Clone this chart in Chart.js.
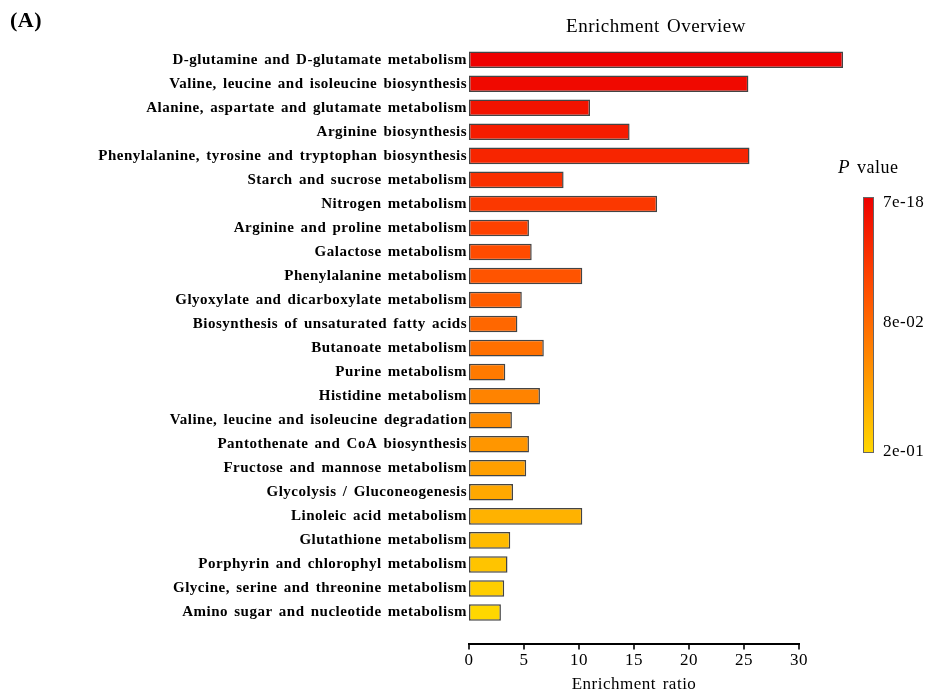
<!DOCTYPE html>
<html>
<head>
<meta charset="utf-8">
<script src="https://cdn.jsdelivr.net/npm/chart.js@4/dist/chart.umd.min.js"></script>
<style>
  html, body { margin: 0; padding: 0; background: #ffffff; }
  #wrap { width: 930px; height: 695px; position: relative; }
</style>
</head>
<body>
<div id="wrap"><canvas id="chart"></canvas></div>
<script>
// KEGG pathways, ordered from most to least significant
const pathways = [
  'D-glutamine and D-glutamate metabolism',
  'Valine, leucine and isoleucine biosynthesis',
  'Alanine, aspartate and glutamate metabolism',
  'Arginine biosynthesis',
  'Phenylalanine, tyrosine and tryptophan biosynthesis',
  'Starch and sucrose metabolism',
  'Nitrogen metabolism',
  'Arginine and proline metabolism',
  'Galactose metabolism',
  'Phenylalanine metabolism',
  'Glyoxylate and dicarboxylate metabolism',
  'Biosynthesis of unsaturated fatty acids',
  'Butanoate metabolism',
  'Purine metabolism',
  'Histidine metabolism',
  'Valine, leucine and isoleucine degradation',
  'Pantothenate and CoA biosynthesis',
  'Fructose and mannose metabolism',
  'Glycolysis / Gluconeogenesis',
  'Linoleic acid metabolism',
  'Glutathione metabolism',
  'Porphyrin and chlorophyl metabolism',
  'Glycine, serine and threonine metabolism',
  'Amino sugar and nucleotide metabolism'
];

// Enrichment ratio per pathway
const enrichmentRatio = [
  34.0, 25.4, 11.0, 14.6, 25.5, 8.6, 17.1, 5.45, 5.7, 10.3, 4.8, 4.4,
  6.8, 3.3, 6.45, 3.9, 5.45, 5.2, 4.0, 10.3, 3.75, 3.5, 3.2, 2.9
];

// x axis tick values and P value colour scale labels
const ratioTicks = [0, 5, 10, 15, 20, 25, 30];
const pValueLabels = ['7e-18', '8e-02', '2e-01'];

const SERIF = "'Liberation Serif', 'Times New Roman', serif";

// red (most significant) -> yellow (least significant)
function rampColor(t) {
  const r = Math.round(238 + (255 - 238) * Math.min(1, t * 3));
  const g = Math.round(215 * t);
  return `rgb(${r},${g},0)`;
}
const barColors = pathways.map((_, i) => rampColor(i / (pathways.length - 1)));

const decorations = {
  id: 'decorations',
  beforeDraw(chart) {
    // slightly loose spacing for all text
    chart.ctx.letterSpacing = '0.5px';
    chart.ctx.wordSpacing = '2px';
  },
  afterDraw(chart) {
    const { ctx, chartArea } = chart;
    const xs = chart.scales.x;
    ctx.save();

    // panel tag
    ctx.fillStyle = '#000';
    ctx.font = `bold 22px ${SERIF}`;
    ctx.textAlign = 'left';
    ctx.textBaseline = 'middle';
    ctx.fillText('(A)', 10, 21);

    // heading centred over the bars
    const maxRatio = Math.max(...enrichmentRatio);
    const cx = (xs.getPixelForValue(0) + xs.getPixelForValue(maxRatio)) / 2;
    ctx.font = `19px ${SERIF}`;
    ctx.textAlign = 'center';
    ctx.fillText('Enrichment Overview', cx, 27);

    // x axis line and tick marks, set below the plot area
    const axisY = chartArea.bottom + 19.5;
    ctx.strokeStyle = '#000';
    ctx.lineWidth = 2;
    ctx.beginPath();
    ctx.moveTo(xs.getPixelForValue(ratioTicks[0]) - 1, axisY);
    ctx.lineTo(xs.getPixelForValue(ratioTicks[ratioTicks.length - 1]) + 1, axisY);
    ctx.stroke();
    ctx.lineWidth = 1.6;
    ratioTicks.forEach(v => {
      const px = xs.getPixelForValue(v);
      ctx.beginPath();
      ctx.moveTo(px, axisY);
      ctx.lineTo(px, axisY + 5.5);
      ctx.stroke();
    });

    // P value colour bar
    const cbX = 863, cbW = 11, cbTop = 197, cbBot = 453;
    const grad = ctx.createLinearGradient(0, cbTop, 0, cbBot);
    for (let k = 0; k <= 10; k++) grad.addColorStop(k / 10, rampColor(k / 10));
    ctx.fillStyle = grad;
    ctx.fillRect(cbX, cbTop, cbW, cbBot - cbTop);
    ctx.strokeStyle = '#666';
    ctx.lineWidth = 1;
    ctx.strokeRect(cbX + 0.5, cbTop + 0.5, cbW - 1, cbBot - cbTop - 1);

    ctx.fillStyle = '#000';
    ctx.font = `17px ${SERIF}`;
    ctx.textAlign = 'left';
    ctx.textBaseline = 'middle';
    const labelYs = [203, 323, 452];
    pValueLabels.forEach((s, i) => ctx.fillText(s, 883, labelYs[i]));

    ctx.font = `italic 19px ${SERIF}`;
    ctx.fillText('P', 838, 168);
    const pw = ctx.measureText('P').width;
    ctx.font = `18px ${SERIF}`;
    ctx.fillText('value', 838 + pw + 7, 168);

    ctx.restore();
  }
};

new Chart(document.getElementById('chart'), {
  type: 'bar',
  data: {
    labels: pathways,
    datasets: [{
      data: enrichmentRatio,
      backgroundColor: barColors,
      borderColor: '#444444',
      borderWidth: 1.5,
      borderSkipped: false,
      barPercentage: 0.69,
      categoryPercentage: 1.0,
      clip: false
    }]
  },
  options: {
    indexAxis: 'y',
    responsive: true,
    maintainAspectRatio: false,
    animation: false,
    layout: { padding: { left: 0, right: 131, top: 47.7, bottom: 0 } },
    plugins: {
      legend: { display: false },
      tooltip: { enabled: false },
      title: { display: false }
    },
    scales: {
      x: {
        type: 'linear',
        min: 0,
        max: 30,
        afterFit(scale) { scale.height = 70.5; },
        afterBuildTicks(scale) { scale.ticks = ratioTicks.map(v => ({ value: v })); },
        grid: { display: false, drawTicks: false },
        border: { display: false },
        ticks: {
          color: '#000',
          font: { family: SERIF, size: 17 },
          padding: 26,
          maxRotation: 0
        },
        title: {
          display: true,
          text: 'Enrichment ratio',
          color: '#000',
          font: { family: SERIF, size: 17 },
          padding: { top: 0, bottom: 0 }
        }
      },
      y: {
        afterFit(scale) { scale.width = 469; },
        grid: { display: false, drawTicks: false },
        border: { display: false },
        ticks: {
          color: '#000',
          font: { family: SERIF, size: 15, weight: 'bold' },
          padding: 2,
          autoSkip: false
        }
      }
    }
  },
  plugins: [decorations]
});
</script>
</body>
</html>
